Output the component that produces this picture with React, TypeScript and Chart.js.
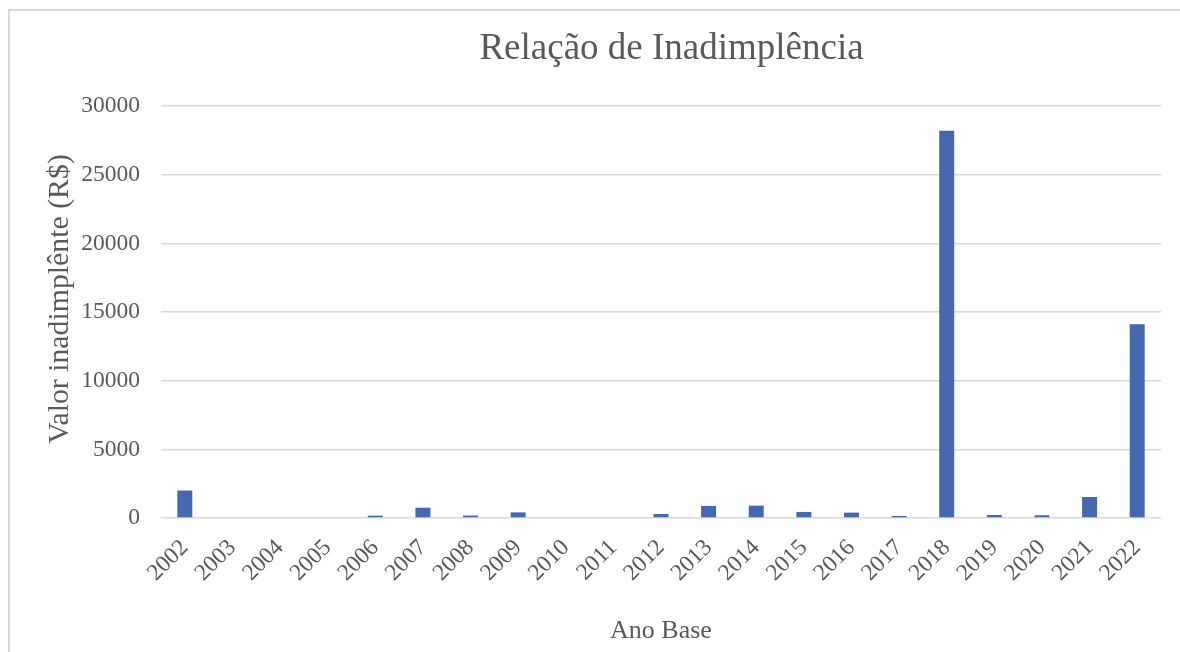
import React, { useEffect, useRef } from "react";
import { Chart, registerables } from "chart.js";

Chart.register(...registerables);

const CHART_TITLE = "Relação de Inadimplência";
const X_TITLE = "Ano Base";
const Y_TITLE = "Valor inadimplênte (R$)";

const years = [
  "2002", "2003", "2004", "2005", "2006", "2007", "2008", "2009", "2010", "2011",
  "2012", "2013", "2014", "2015", "2016", "2017", "2018", "2019", "2020", "2021", "2022",
];

const valores = [
  2000, 0, 0, 0, 170, 750, 180, 410, 0, 0,
  290, 880, 900, 440, 390, 150, 28200, 220, 200, 1530, 14100,
];

const yMin = 0;
const yMax = 30000;
const yStep = 5000;

const FONT = '"Liberation Serif", "Times New Roman", serif';
const TEXT_COLOR = "#595959";
const GRID_COLOR = "#d9d9d9";
const BAR_COLOR = "#4668b0";

const titlesPlugin = {
  id: "excelTitles",
  afterDraw(chart: any) {
    const { ctx, chartArea } = chart;
    ctx.save();
    ctx.fillStyle = TEXT_COLOR;
    // chart title
    ctx.font = `37px ${FONT}`;
    ctx.textAlign = "center";
    ctx.textBaseline = "alphabetic";
    ctx.fillText(CHART_TITLE, (chartArea.left + chartArea.right) / 2 + 10.5, 59);
    // y axis title
    ctx.translate(60, (chartArea.top + chartArea.bottom) / 2 - 13);
    ctx.rotate(-Math.PI / 2);
    ctx.font = `29.8px ${FONT}`;
    ctx.textBaseline = "middle";
    ctx.fillText(Y_TITLE, 0, 0);
    ctx.restore();
  },
};

export default function App() {
  const canvasRef = useRef<HTMLCanvasElement | null>(null);

  useEffect(() => {
    if (!canvasRef.current) return;
    const chart = new Chart(canvasRef.current, {
      type: "bar",
      data: {
        labels: years,
        datasets: [
          {
            label: "Valor",
            data: valores,
            backgroundColor: BAR_COLOR,
            borderWidth: 0,
            categoryPercentage: 1,
            barPercentage: 0.315,
          },
        ],
      },
      options: {
        animation: false,
        responsive: true,
        maintainAspectRatio: false,
        layout: { padding: { left: 0, right: 19, top: 106, bottom: 0 } },
        plugins: {
          legend: { display: false },
          title: { display: false },
          tooltip: { enabled: false },
        },
        scales: {
          x: {
            grid: { display: false },
            border: { display: false },
            ticks: {
              color: TEXT_COLOR,
              font: { family: FONT, size: 23.5 },
              maxRotation: 45,
              minRotation: 45,
              autoSkip: false,
              padding: 8,
            },
            title: {
              display: true,
              text: X_TITLE,
              color: TEXT_COLOR,
              font: { family: FONT, size: 26 },
              padding: { top: 0, bottom: 5 },
            },
            afterFit(scale: any) {
              scale.height = 134;
            },
          },
          y: {
            min: yMin,
            max: yMax,
            grid: {
              color: GRID_COLOR,
              lineWidth: 1.5,
              drawTicks: false,
            },
            border: { display: false },
            ticks: {
              stepSize: yStep,
              color: TEXT_COLOR,
              font: { family: FONT, size: 23.5 },
              padding: 21,
              callback: (value: any) => String(value),
            },
            afterFit(scale: any) {
              scale.width = 161;
            },
          },
        },
      },
      plugins: [titlesPlugin],
    });
    return () => chart.destroy();
  }, []);

  return (
    <div
      style={{
        position: "fixed",
        left: 0,
        top: 0,
        width: 1180,
        height: 652,
        overflow: "hidden",
        background: "#ffffff",
      }}
    >
      <div
        style={{
          position: "absolute",
          left: 8,
          top: 9,
          width: 1400,
          height: 800,
          borderLeft: `2px solid ${GRID_COLOR}`,
          borderTop: `2px solid ${GRID_COLOR}`,
        }}
      />
      <div style={{ position: "absolute", left: 0, top: 0, width: 1180, height: 652 }}>
        <canvas ref={canvasRef} />
      </div>
    </div>
  );
}
